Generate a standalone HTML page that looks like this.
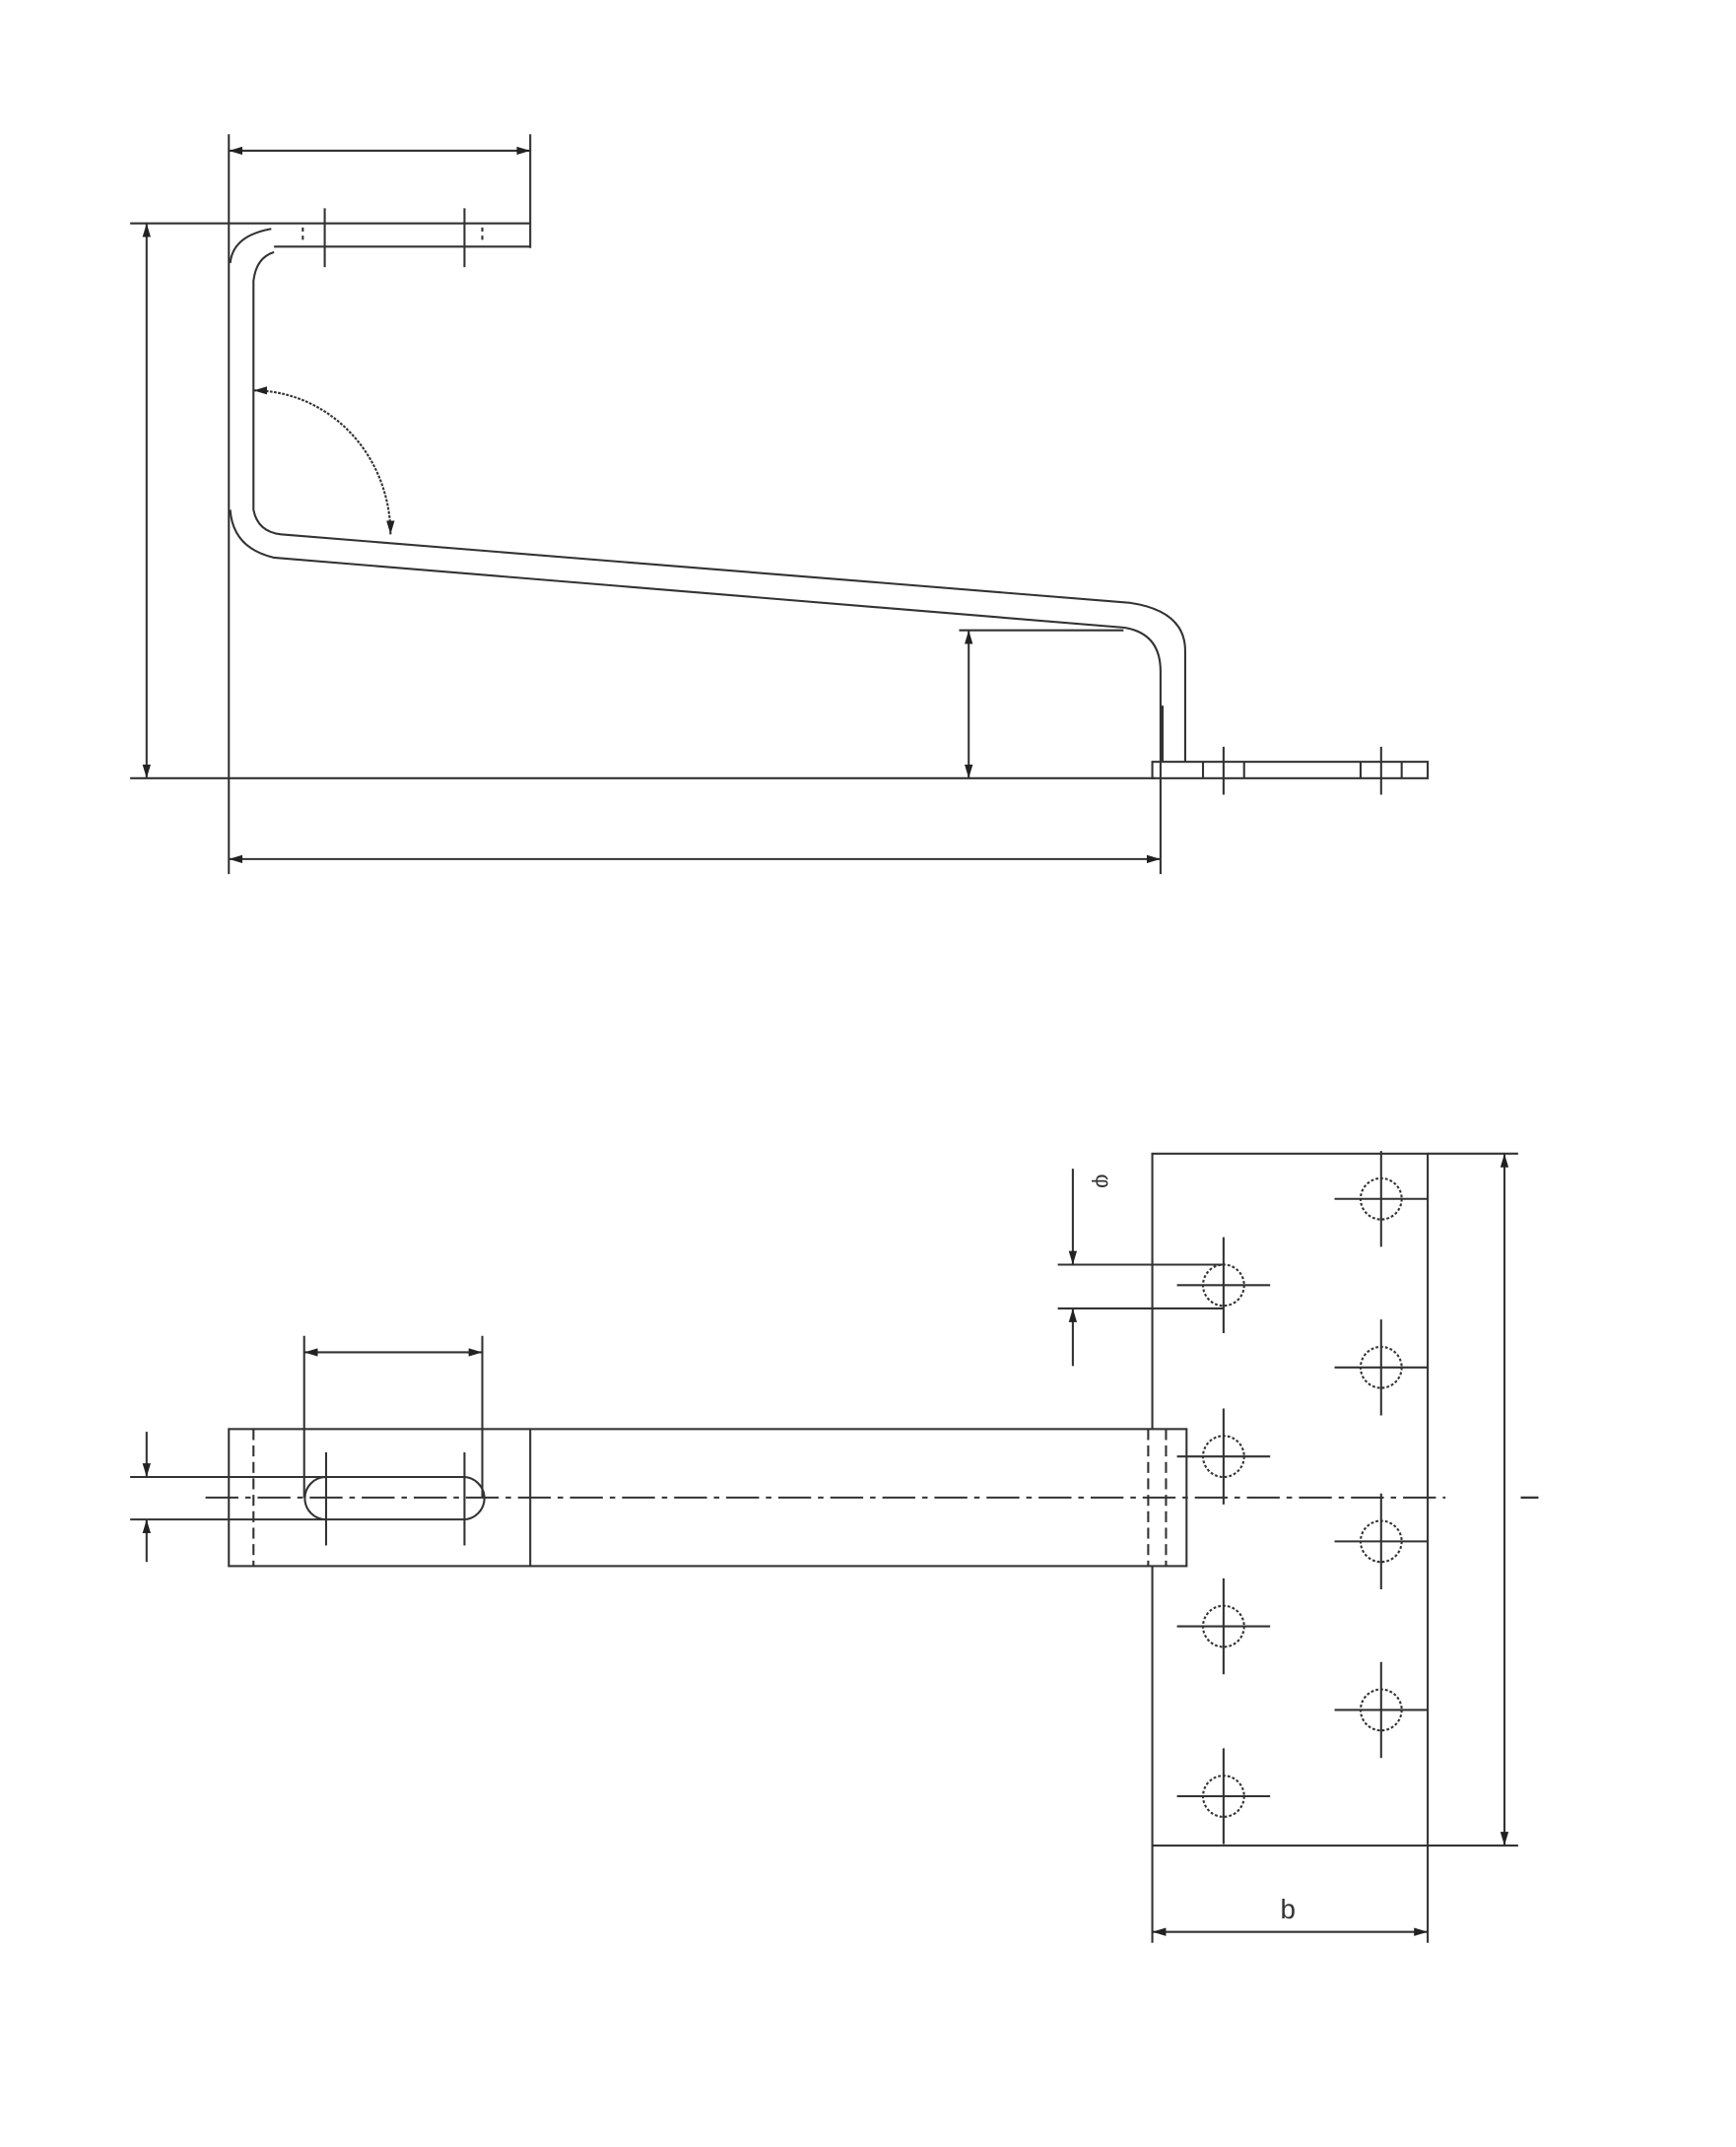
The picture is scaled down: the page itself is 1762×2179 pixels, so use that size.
<!DOCTYPE html>
<html><head><meta charset="utf-8"><style>html,body{margin:0;padding:0;background:#fff}svg{display:block}</style></head>
<body>
<svg width="1762" height="2179" viewBox="0 0 1267 1567" preserveAspectRatio="none" xmlns="http://www.w3.org/2000/svg">
<defs>
<marker id="a" viewBox="0 0 10 6" refX="10" refY="3" markerWidth="10" markerHeight="6" orient="auto-start-reverse" markerUnits="userSpaceOnUse"><path d="M0,0 L10,3 L0,6 z" fill="#222"/></marker>
</defs>
<g stroke="#333" stroke-width="1.5" fill="none">
<!-- TOP VIEW -->
<line x1="167" y1="98" x2="167" y2="638"/>
<line x1="387" y1="98" x2="387" y2="181"/>
<line x1="167" y1="110" x2="387" y2="110" marker-start="url(#a)" marker-end="url(#a)"/>
<line x1="95" y1="163" x2="387" y2="163"/>
<line x1="200" y1="180" x2="387" y2="180"/>
<line x1="107" y1="163" x2="107" y2="568" marker-start="url(#a)" marker-end="url(#a)"/>
<path d="M198,167 Q170,172 168,192"/>
<path d="M200,184 Q187,188 185,205 L185,372 Q188,388 205,390 L825,440 Q865,446 865,475 L865,556"/>
<path d="M168,372 Q170,400 200,407 L820,458 Q847,462 847,490 L847,556"/>
<line x1="848" y1="515" x2="848" y2="556" stroke-width="2.5"/>
<line x1="221" y1="166" x2="221" y2="178" stroke-dasharray="3,3"/>
<line x1="352" y1="166" x2="352" y2="178" stroke-dasharray="3,3"/>
<line x1="237" y1="152" x2="237" y2="195"/>
<line x1="339" y1="152" x2="339" y2="195"/>
<path d="M185,285 A100,105 0 0 1 285,390" stroke-dasharray="2,1" marker-start="url(#a)" marker-end="url(#a)"/>
<line x1="95" y1="568" x2="843" y2="568"/>
<rect x="841" y="556" width="201" height="12"/>
<line x1="847" y1="556" x2="847" y2="638"/>
<line x1="878" y1="556" x2="878" y2="568"/><line x1="908" y1="556" x2="908" y2="568"/>
<line x1="993" y1="556" x2="993" y2="568"/><line x1="1023" y1="556" x2="1023" y2="568"/>
<line x1="893" y1="545" x2="893" y2="580"/><line x1="1008" y1="545" x2="1008" y2="580"/>
<line x1="700" y1="460" x2="820" y2="460"/>
<line x1="707" y1="460" x2="707" y2="568" marker-start="url(#a)" marker-end="url(#a)"/>
<line x1="167" y1="627" x2="847" y2="627" marker-start="url(#a)" marker-end="url(#a)"/>
<!-- BOTTOM VIEW -->
<rect x="841" y="842" width="201" height="505"/>
<rect x="167" y="1043" width="699" height="100" fill="#fff"/>
<line x1="387" y1="1043" x2="387" y2="1143"/>
<line x1="185" y1="1043" x2="185" y2="1143" stroke-dasharray="8,4"/>
<line x1="838" y1="1043" x2="838" y2="1143" stroke-dasharray="8,4"/>
<line x1="851" y1="1043" x2="851" y2="1143" stroke-dasharray="8,4"/>
<line x1="150" y1="1093" x2="1055" y2="1093" stroke-dasharray="24,5,4,5"/>
<path d="M238,1078 L338,1078 A15.5,15.5 0 0 1 338,1109 L238,1109 A15.5,15.5 0 0 1 238,1078 z"/>
<line x1="238" y1="1060" x2="238" y2="1128"/><line x1="339" y1="1060" x2="339" y2="1128"/>
<line x1="222" y1="975" x2="222" y2="1093"/><line x1="352" y1="975" x2="352" y2="1093"/>
<line x1="222" y1="987" x2="352" y2="987" marker-start="url(#a)" marker-end="url(#a)"/>
<line x1="95" y1="1078" x2="238" y2="1078"/><line x1="95" y1="1109" x2="238" y2="1109"/>
<line x1="107" y1="1045" x2="107" y2="1078" marker-end="url(#a)"/>
<line x1="107" y1="1140" x2="107" y2="1109" marker-end="url(#a)"/>
<line x1="772" y1="923" x2="893" y2="923"/><line x1="772" y1="955" x2="893" y2="955"/>
<line x1="783" y1="853" x2="783" y2="923" marker-end="url(#a)"/>
<line x1="783" y1="997" x2="783" y2="955" marker-end="url(#a)"/>
<line x1="1042" y1="842" x2="1108" y2="842"/><line x1="1042" y1="1347" x2="1108" y2="1347"/>
<line x1="1098" y1="842" x2="1098" y2="1347" marker-start="url(#a)" marker-end="url(#a)"/>
<line x1="841" y1="1347" x2="841" y2="1418"/><line x1="1042" y1="1347" x2="1042" y2="1418"/>
<line x1="841" y1="1410" x2="1042" y2="1410" marker-start="url(#a)" marker-end="url(#a)"/>
</g>
<g stroke="#333" stroke-width="1.5" fill="none">
<g transform="translate(893,938)"><circle r="15" stroke-dasharray="2,1.5"/><line x1="-34" y1="0" x2="34" y2="0"/><line x1="0" y1="-35" x2="0" y2="35"/></g>
<g transform="translate(893,1063)"><circle r="15" stroke-dasharray="2,1.5"/><line x1="-34" y1="0" x2="34" y2="0"/><line x1="0" y1="-35" x2="0" y2="35"/></g>
<g transform="translate(893,1187)"><circle r="15" stroke-dasharray="2,1.5"/><line x1="-34" y1="0" x2="34" y2="0"/><line x1="0" y1="-35" x2="0" y2="35"/></g>
<g transform="translate(893,1311)"><circle r="15" stroke-dasharray="2,1.5"/><line x1="-34" y1="0" x2="34" y2="0"/><line x1="0" y1="-35" x2="0" y2="35"/></g>
<g transform="translate(1008,875)"><circle r="15" stroke-dasharray="2,1.5"/><line x1="-34" y1="0" x2="34" y2="0"/><line x1="0" y1="-35" x2="0" y2="35"/></g>
<g transform="translate(1008,998)"><circle r="15" stroke-dasharray="2,1.5"/><line x1="-34" y1="0" x2="34" y2="0"/><line x1="0" y1="-35" x2="0" y2="35"/></g>
<g transform="translate(1008,1125)"><circle r="15" stroke-dasharray="2,1.5"/><line x1="-34" y1="0" x2="34" y2="0"/><line x1="0" y1="-35" x2="0" y2="35"/></g>
<g transform="translate(1008,1248)"><circle r="15" stroke-dasharray="2,1.5"/><line x1="-34" y1="0" x2="34" y2="0"/><line x1="0" y1="-35" x2="0" y2="35"/></g>
</g>
<g font-family="Liberation Sans, sans-serif" fill="#333">
<text x="940" y="1400" font-size="20" text-anchor="middle">b</text>
<text x="0" y="0" font-size="18" transform="translate(1110,1093) rotate(90)" text-anchor="middle">l</text>
<text x="0" y="0" font-size="16" transform="translate(800,862) rotate(90)" text-anchor="middle">φ</text>
</g>
</svg>
</body></html>
